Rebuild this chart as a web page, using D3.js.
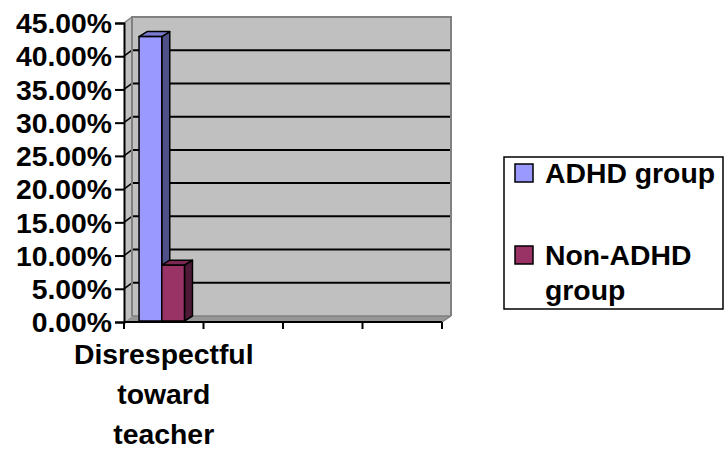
<!DOCTYPE html>
<html>
<head>
<meta charset="utf-8">
<script src="https://cdn.jsdelivr.net/npm/d3@7"></script>
<style>
  html, body { margin: 0; padding: 0; background: #ffffff; }
  svg { display: block; }
  text { font-family: "Liberation Sans", Arial, sans-serif; font-weight: bold; fill: #000; }
</style>
</head>
<body>
<svg id="chart" width="728" height="451"></svg>
<script>
// Share of pupils rated "disrespectful toward teacher", by group
const categories = ["Disrespectful toward teacher", "", "", ""];
const categoryLines = [["Disrespectful", "toward", "teacher"], [], [], []];
const seriesNames = ["ADHD group", "Non-ADHD group"];
const adhdValues = [0.428, null, null, null];
const nonAdhdValues = [0.084, null, null, null];
const yTicks = [0, 0.05, 0.10, 0.15, 0.20, 0.25, 0.30, 0.35, 0.40, 0.45];
const legendLines = [["ADHD group"], ["Non-ADHD", "group"]];

const seriesValues = [adhdValues, nonAdhdValues];
const faceColors = [
  { front: "#9999ff", top: "#7a7ad0", side: "#4f4f8a" },
  { front: "#993366", top: "#7a2952", side: "#4f1a35" }
];

const svg = d3.select("#chart");

// plot frame (front plane) and 3D depth offset
const plotL = 124, plotR = 442, plotB = 322, plotT = 23;
const dx = 8, dy = -6;
const fontPx = 27;
const textStretch = 1.05;

const y = d3.scaleLinear().domain([0, 0.45]).range([plotB, plotT]);
const x = d3.scaleBand().domain(d3.range(categories.length)).range([plotL, plotR]).padding(0);
// Excel-style gap width 150%: each bar = step/(n + 1.5)
const xs = d3.scaleBand().domain(d3.range(seriesNames.length))
  .range([0, x.bandwidth()]).paddingInner(0).paddingOuter(0.75);

// back wall
svg.append("rect")
  .attr("x", plotL + dx).attr("y", plotT + dy)
  .attr("width", plotR - plotL + 1).attr("height", plotB - plotT)
  .attr("fill", "#c0c0c0");

// side wall
svg.append("path")
  .attr("d", `M${plotL},${plotB} L${plotL},${plotT} L${plotL + dx},${plotT + dy} L${plotL + dx},${plotB + dy} Z`)
  .attr("fill", "#c0c0c0");

// floor
svg.append("path")
  .attr("d", `M${plotL},${plotB} L${plotR},${plotB} L${plotR + dx + 1},${plotB + dy} L${plotL + dx},${plotB + dy} Z`)
  .attr("fill", "#969696");

// gridlines on the back wall and side wall
const gridVals = yTicks.filter(v => v > 0 && v < 0.45);
svg.append("g").selectAll("line").data(gridVals).join("line")
  .attr("x1", plotL + dx).attr("x2", plotR + dx + 1)
  .attr("y1", d => y(d) + dy).attr("y2", d => y(d) + dy)
  .attr("stroke", "#000").attr("stroke-width", 2);
svg.append("g").selectAll("line").data(gridVals).join("line")
  .attr("x1", plotL).attr("x2", plotL + dx)
  .attr("y1", d => y(d)).attr("y2", d => y(d) + dy)
  .attr("stroke", "#000").attr("stroke-width", 1.5);

// wall borders
svg.append("path")
  .attr("d", `M${plotL + dx},${plotB + dy} L${plotL + dx},${plotT + dy} L${plotR + dx + 1},${plotT + dy} L${plotR + dx + 1},${plotB + dy}`)
  .attr("fill", "none").attr("stroke", "#808080").attr("stroke-width", 2);
svg.append("path")
  .attr("d", `M${plotL},${plotT} L${plotL + dx},${plotT + dy} M${plotR},${plotB} L${plotR + dx + 1},${plotB + dy}`)
  .attr("fill", "none").attr("stroke", "#808080").attr("stroke-width", 1.5);
svg.append("line")
  .attr("x1", plotL + dx).attr("x2", plotR + dx + 1)
  .attr("y1", plotB + dy).attr("y2", plotB + dy)
  .attr("stroke", "#808080").attr("stroke-width", 1.5);

// 3D columns
const bw = xs.bandwidth();
const bdx = 8, bdy = -5;
const bars = [];
categories.forEach((c, ci) => {
  seriesValues.forEach((vals, si) => {
    if (vals[ci] != null) bars.push({ ci, si, v: vals[ci] });
  });
});
const barG = svg.append("g");
bars.forEach(b => {
  const x0 = x(b.ci) + xs(b.si) - 2;
  const x1 = x0 + bw;
  const yt = y(b.v) - 1;
  const yb = y(0) - 1;
  const col = faceColors[b.si];
  const g = barG.append("g");
  g.append("path")
    .attr("d", `M${x1},${yb} L${x1},${yt} L${x1 + bdx},${yt + bdy} L${x1 + bdx},${yb + bdy} Z`)
    .attr("fill", col.side).attr("stroke", "#000").attr("stroke-width", 1.5).attr("stroke-linejoin", "round");
  g.append("path")
    .attr("d", `M${x0},${yt} L${x0 + bdx},${yt + bdy} L${x1 + bdx},${yt + bdy} L${x1},${yt} Z`)
    .attr("fill", col.top).attr("stroke", "#000").attr("stroke-width", 1.5).attr("stroke-linejoin", "round");
  g.append("rect")
    .attr("x", x0).attr("y", yt).attr("width", bw).attr("height", yb - yt)
    .attr("fill", col.front).attr("stroke", "#000").attr("stroke-width", 1.5);
});

// y axis
const yAxis = d3.axisLeft(y).tickValues(yTicks).tickSize(9).tickPadding(3)
  .tickFormat(d => (d * 100).toFixed(2) + "%");
const yg = svg.append("g").attr("transform", `translate(${plotL},0)`).call(yAxis);
yg.attr("font-family", null).attr("font-size", null);
yg.select(".domain").attr("stroke", "#000").attr("stroke-width", 2);
yg.selectAll(".tick line").attr("stroke", "#000").attr("stroke-width", 2);
yg.selectAll(".tick text")
  .attr("font-size", fontPx).attr("font-weight", "bold")
  .attr("dy", "0.36em")
  .attr("transform", function () {
    const tx = +d3.select(this).attr("x");
    return `translate(${tx},0) scale(${textStretch},1) translate(${-tx},0)`;
  });

// x axis
const xBounds = d3.range(categories.length + 1).map(i => plotL + i * x.step());
svg.append("line")
  .attr("x1", plotL).attr("x2", plotR).attr("y1", plotB).attr("y2", plotB)
  .attr("stroke", "#000").attr("stroke-width", 2);
svg.append("g").selectAll("line").data(xBounds).join("line")
  .attr("x1", d => d).attr("x2", d => d)
  .attr("y1", plotB).attr("y2", plotB + 7)
  .attr("stroke", "#000").attr("stroke-width", 2);

// category labels
categoryLines.forEach((lines, ci) => {
  const cx = x(ci) + x.bandwidth() / 2;
  lines.forEach((ln, li) => {
    svg.append("text")
      .attr("text-anchor", "middle")
      .attr("font-size", fontPx)
      .attr("transform", `translate(${cx},${364 + li * 40}) scale(${textStretch},1)`)
      .text(ln);
  });
});

// legend
const legend = svg.append("g");
legend.append("rect")
  .attr("x", 504).attr("y", 157).attr("width", 219).attr("height", 152)
  .attr("fill", "#fff").attr("stroke", "#000").attr("stroke-width", 1.5);
const legendRowY = [183, 265];
seriesNames.forEach((name, i) => {
  legend.append("rect")
    .attr("x", 515).attr("y", legendRowY[i] - 19).attr("width", 18).attr("height", 18)
    .attr("fill", faceColors[i].front).attr("stroke", "#000").attr("stroke-width", 1.5);
  legendLines[i].forEach((ln, li) => {
    legend.append("text")
      .attr("font-size", fontPx)
      .attr("transform", `translate(545,${legendRowY[i] + li * 35}) scale(${textStretch},1)`)
      .text(ln);
  });
});
</script>
</body>
</html>
